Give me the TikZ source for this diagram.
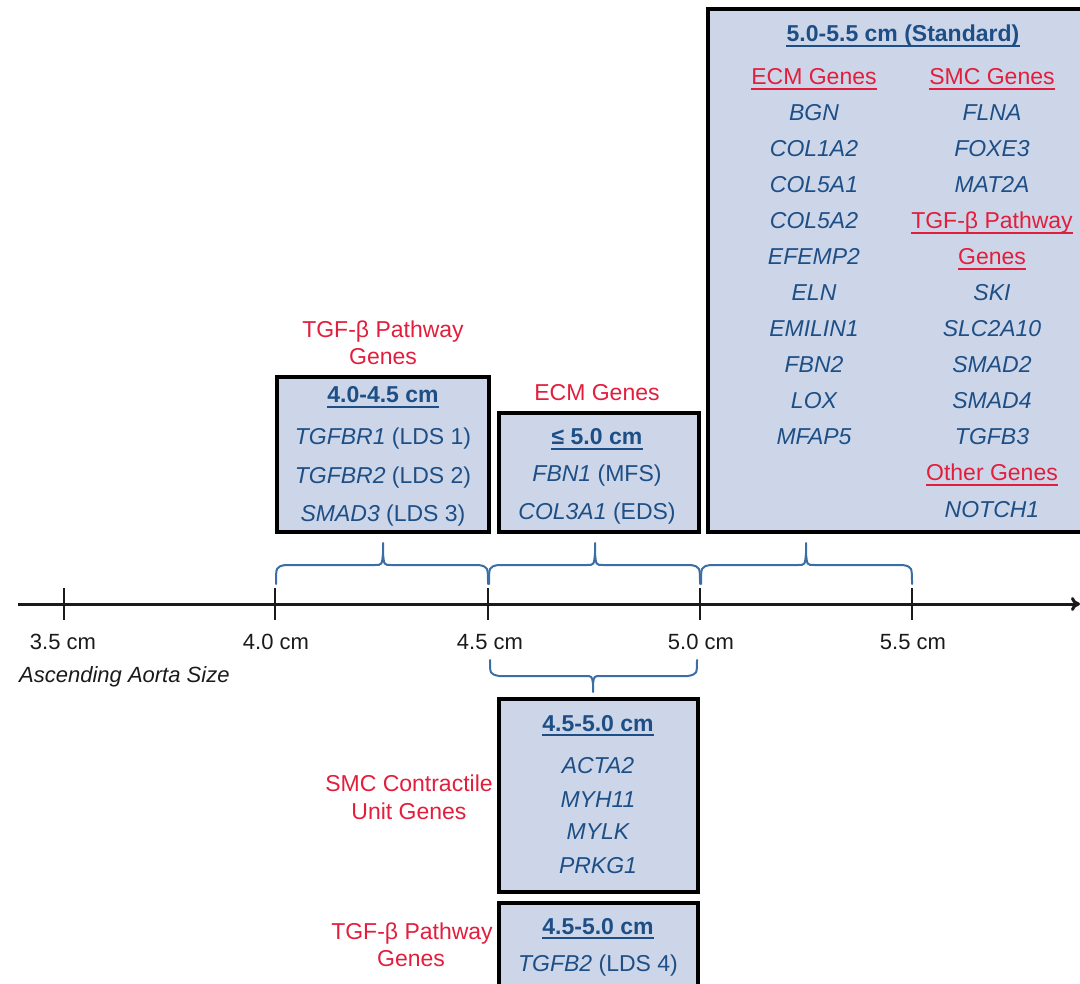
\documentclass[tikz,border=0pt]{standalone}
\usepackage{fontspec}
\setmainfont{Liberation Sans}
\usetikzlibrary{arrows.meta,calc}
\definecolor{gred}{HTML}{E31D3C}
\definecolor{gblue}{HTML}{1D4F86}
\definecolor{gfill}{HTML}{CDD6E8}
\definecolor{gbrace}{HTML}{3A6EA5}
\definecolor{gaxis}{HTML}{1A1A1A}
\newcommand{\upbrc}[3]{\draw[brc] (#1,584) .. controls (#1,567) .. (#1+9,565) -- (#2-8,565) .. controls (#2-1,565) .. (#2,553) -- (#2,543) -- (#2,553) .. controls (#2+1,565) .. (#2+8,565) -- (#3-9,565) .. controls (#3,567) .. (#3,584);}
\begin{document}
\begin{tikzpicture}[x=1pt,y=-1pt,
  every node/.style={inner sep=0pt, text height=16pt, text depth=0pt, font=\fontsize{23}{27}\selectfont},
  gene/.style={text=gblue, font=\fontsize{23}{27}\selectfont\itshape},
  mixg/.style={text=gblue},
  ttl/.style={text=gblue, font=\fontsize{23}{27}\selectfont\bfseries},
  redlab/.style={text=gred},
  box/.style={draw=black, line width=3.2pt, fill=gfill},
  brc/.style={draw=gbrace, line width=2pt, line join=round, line cap=round},
  tick/.style={draw=gaxis, line width=2.8pt},
  ticklab/.style={text=gaxis, font=\fontsize{22}{26}\selectfont},
  ulb/.style={draw=gblue, line width=1.6pt},
  ulr/.style={draw=gred, line width=1.6pt}]
\useasboundingbox (0,0) rectangle (1080,984);
% boxes
\draw[box] (277,377) rectangle (489,532);
\draw[box] (499,413) rectangle (699,532);
\draw[box] (708,9) rectangle (1095,532);
\draw[box] (499,699) rectangle (698,892);
\draw[box] (499,903) rectangle (698,995);
% axis
\coordinate (axs) at (18,604);
\coordinate (axe) at (1080,604);
\draw[draw=gaxis, line width=3pt, -{To[length=9pt,width=14pt]}] (axs) -- (axe);
\foreach \x in {64,275,488,700,912}{
  \draw[tick] (\x,588) -- (\x,620);
}
\node[ticklab] (l35) at (63,641) {3.5 cm};
\node[ticklab] (l40) at (276,641) {4.0 cm};
\node[ticklab] (l45) at (490,641) {4.5 cm};
\node[ticklab] (l50) at (701,641) {5.0 cm};
\node[ticklab] (l55) at (913,641) {5.5 cm};
\node[ticklab, anchor=west, font=\fontsize{22}{26}\selectfont\itshape] (axl) at (19,674) {Ascending Aorta Size};
% braces
\upbrc{276}{383}{488}
\upbrc{489}{595}{700}
\upbrc{701}{806}{912}
\draw[brc] (490,660) .. controls (490,674) .. (499,676) -- (585,676) .. controls (592,676) .. (593,684) -- (593,692) -- (593,684) .. controls (594,676) .. (601,676) -- (688,676) .. controls (697,674) .. (697,660);
% box 1
\node[redlab] (r1a) at (383,330) {TGF-β Pathway};
\node[redlab] (r1b) at (383,357) {Genes};
\node[ttl] (h1) at (383,395) {4.0-4.5 cm};
\draw[ulb] ($(h1.south west)+(0,4)$) -- ($(h1.south east)+(0,4)$);
\node[mixg] (g11) at (383,437) {\textit{TGFBR1} (LDS 1)};
\node[mixg] (g12) at (383,475) {\textit{TGFBR2} (LDS 2)};
\node[mixg] (g13) at (383,513) {\textit{SMAD3} (LDS 3)};
% box 2
\node[redlab] (r2) at (597,393) {ECM Genes};
\node[ttl] (h2) at (597,437) {≤ 5.0 cm};
\draw[ulb] ($(h2.south west)+(0,4)$) -- ($(h2.south east)+(0,4)$);
\node[mixg] (g21) at (597,474) {\textit{FBN1} (MFS)};
\node[mixg] (g22) at (597,511) {\textit{COL3A1} (EDS)};
% box 3
\node[ttl] (h3) at (903,34) {5.0-5.5 cm (Standard)};
\draw[ulb] ($(h3.south west)+(0,4)$) -- ($(h3.south east)+(0,4)$);
\node[redlab] (c1) at (814,77) {ECM Genes};
\draw[ulr] ($(c1.south west)+(0,4)$) -- ($(c1.south east)+(0,4)$);
\node[redlab] (c2) at (992,77) {SMC Genes};
\draw[ulr] ($(c2.south west)+(0,4)$) -- ($(c2.south east)+(0,4)$);
\foreach \t [count=\i] in {BGN,COL1A2,COL5A1,COL5A2,EFEMP2,ELN,EMILIN1,FBN2,LOX,MFAP5}{
  \node[gene] (e\i) at (814,77+36*\i) {\t};
}
\node[gene] (s1) at (992,113) {FLNA};
\node[gene] (s2) at (992,149) {FOXE3};
\node[gene] (s3) at (992,185) {MAT2A};
\node[redlab] (c3) at (992,221) {TGF-β Pathway};
\draw[ulr] ($(c3.south west)+(0,4)$) -- ($(c3.south east)+(0,4)$);
\node[redlab] (c4) at (992,257) {Genes};
\draw[ulr] ($(c4.south west)+(0,4)$) -- ($(c4.south east)+(0,4)$);
\node[gene] (s4) at (992,293) {SKI};
\node[gene] (s5) at (992,329) {SLC2A10};
\node[gene] (s6) at (992,365) {SMAD2};
\node[gene] (s7) at (992,401) {SMAD4};
\node[gene] (s8) at (992,437) {TGFB3};
\node[redlab] (c5) at (992,473) {Other Genes};
\draw[ulr] ($(c5.south west)+(0,4)$) -- ($(c5.south east)+(0,4)$);
\node[gene] (s9) at (992,509) {NOTCH1};
% box 4
\node[redlab] (r4a) at (409,783) {SMC Contractile};
\node[redlab] (r4b) at (409,811) {Unit Genes};
\node[ttl] (h4) at (598,723) {4.5-5.0 cm};
\draw[ulb] ($(h4.south west)+(0,4)$) -- ($(h4.south east)+(0,4)$);
\node[gene] (m1) at (598,765) {ACTA2};
\node[gene] (m2) at (598,799) {MYH11};
\node[gene] (m3) at (598,831) {MYLK};
\node[gene] (m4) at (598,865) {PRKG1};
% box 5
\node[redlab] (r5a) at (412,931) {TGF-β Pathway};
\node[redlab] (r5b) at (411,958) {Genes};
\node[ttl] (h5) at (598,926) {4.5-5.0 cm};
\draw[ulb] ($(h5.south west)+(0,4)$) -- ($(h5.south east)+(0,4)$);
\node[mixg] (g51) at (598,963) {\textit{TGFB2} (LDS 4)};
\end{tikzpicture}
\end{document}
